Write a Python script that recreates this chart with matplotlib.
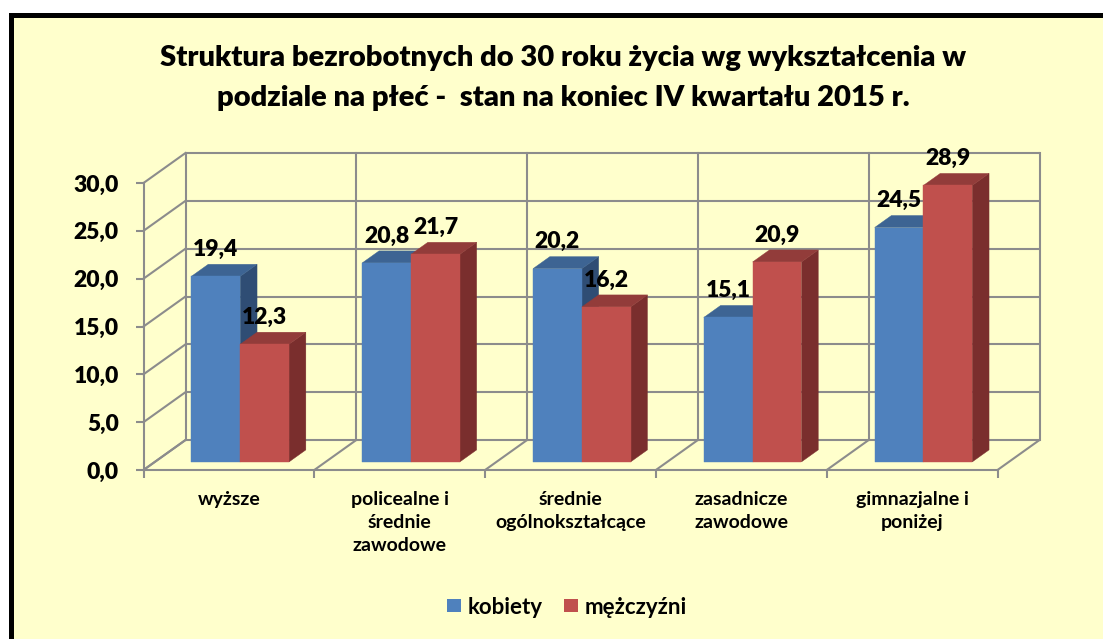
import matplotlib
matplotlib.use("Agg")
import matplotlib.pyplot as plt
from matplotlib.patches import Polygon, Rectangle, Patch

plt.rcParams['font.family'] = ['Lato', 'DejaVu Sans']

# ---- data ----
categories = ["wyższe", "policealne i\nśrednie\nzawodowe", "średnie\nogólnokształcące",
              "zasadnicze\nzawodowe", "gimnazjalne i\nponiżej"]
series_names = ["kobiety", "mężczyźni"]
kobiety = [19.4, 20.8, 20.2, 15.1, 24.5]
mezczyzni = [12.3, 21.7, 16.2, 20.9, 28.9]
yticks = [0, 5, 10, 15, 20, 25, 30]
title_lines = ["Struktura bezrobotnych do 30 roku życia wg wykształcenia w",
               "podziale na płeć -  stan na koniec IV kwartału 2015 r."]

# ---- style ----
W, H = 1103, 639
BG = '#FFFFCC'
GRID = '#8C8C8C'
front_cols = ['#4F81BD', '#C0504D']
top_cols = ['#3D6493', '#923C3A']
side_cols = ['#2F4D74', '#7A2E2D']

fig = plt.figure(figsize=(W / 100, H / 100), dpi=100)
fig.patch.set_facecolor('white')
bgrect = Rectangle((10.5 / W, -0.1), 1.2, 0.1 + (H - 15.5) / H, transform=fig.transFigure,
                   facecolor=BG, edgecolor='black', linewidth=3.6, zorder=-1)
fig.patches.append(bgrect)

# front plane in pixels
x0p, x1p = 143.5, 997.5
y0p, y1p = 470, 183
ax = fig.add_axes([x0p / W, (H - y0p) / H, (x1p - x0p) / W, (y0p - y1p) / H])
ax.patch.set_visible(False)
ncat = len(categories)
ymax = yticks[-1]
ax.set_xlim(0, ncat)
ax.set_ylim(0, ymax)

# depth projection (data units per full depth)
DX = 42 / ((x1p - x0p) / ncat)
DY = 30 / ((y0p - y1p) / ymax)


def P(x, y, d):
    return (x + d * DX, y + d * DY)


lw = 1.5
# back wall horizontal grid + left wall diagonals
for v in yticks:
    xs, ys = zip(P(0, v, 1), P(ncat, v, 1))
    ax.plot(xs, ys, color=GRID, lw=lw, clip_on=False, zorder=1, solid_capstyle='butt')
    xs, ys = zip(P(0, v, 0), P(0, v, 1))
    ax.plot(xs, ys, color=GRID, lw=lw, clip_on=False, zorder=1)
# back wall verticals + floor diagonals
for k in range(ncat + 1):
    xs, ys = zip(P(k, 0, 1), P(k, ymax, 1))
    ax.plot(xs, ys, color=GRID, lw=lw, clip_on=False, zorder=1)
    xs, ys = zip(P(k, 0, 0), P(k, 0, 1))
    ax.plot(xs, ys, color=GRID, lw=lw, clip_on=False, zorder=1)

# bars
w = 1 / 3.5
d0, d1 = 0.27, 0.67
z = 3
for i in range(ncat):
    for s, vals in enumerate([kobiety, mezczyzni]):
        v = vals[i]
        xl = i + 0.5 - w + s * w
        xr = xl + w
        side = [P(xr, 0, d0), P(xr, 0, d1), P(xr, v, d1), P(xr, v, d0)]
        top = [P(xl, v, d0), P(xr, v, d0), P(xr, v, d1), P(xl, v, d1)]
        front = [P(xl, 0, d0), P(xr, 0, d0), P(xr, v, d0), P(xl, v, d0)]
        for poly, col in [(side, side_cols[s]), (top, top_cols[s]), (front, front_cols[s])]:
            ax.add_patch(Polygon(poly, closed=True, facecolor=col, edgecolor=col,
                                 linewidth=0.3, clip_on=False, zorder=z))
            z += 0.01
        lx, ly = (xl + xr) / 2 + d0 * DX, v + d1 * DY
        ax.annotate(f"{v:.1f}".replace('.', ','), xy=(lx, ly), xytext=(0, 6),
                    textcoords='offset points', ha='center', va='baseline',
                    fontsize=16.5, fontweight='heavy', color='black',
                    annotation_clip=False, zorder=10)

# axes spines / ticks
for sp in ['top', 'right']:
    ax.spines[sp].set_visible(False)
for sp in ['left', 'bottom']:
    ax.spines[sp].set_color(GRID)
    ax.spines[sp].set_linewidth(lw)
    ax.spines[sp].set_zorder(2)
ax.set_yticks(yticks)
ax.set_yticklabels([f"{t:.1f}".replace('.', ',') for t in yticks],
                   fontsize=16.5, fontweight='heavy')
ax.tick_params(axis='y', direction='out', length=5.8, width=lw, color=GRID, pad=12)
ax.set_xticks(range(ncat + 1))
ax.set_xticklabels([])
ax.tick_params(axis='x', which='major', direction='out', length=5.8, width=lw, color=GRID)
ax.set_xticks([i + 0.5 for i in range(ncat)], minor=True)
ax.set_xticklabels(categories, minor=True, fontsize=14, fontweight='bold', linespacing=1.45)
ax.tick_params(axis='x', which='minor', length=0, pad=15)

# title
fig.text(563 / W, 1 - 66 / H, title_lines[0], ha='center', va='baseline',
         fontsize=21, fontweight='heavy')
fig.text(563 / W, 1 - 106 / H, title_lines[1], ha='center', va='baseline',
         fontsize=21, fontweight='heavy')

# legend
handles = [Patch(facecolor=c, edgecolor='none') for c in front_cols]
leg = fig.legend(handles, series_names, loc='center', bbox_to_anchor=(567 / W, 1 - 607 / H),
                 ncol=2, frameon=False, prop={'weight': 'bold', 'size': 16},
                 handlelength=0.6, handleheight=0.55, handletextpad=0.3, columnspacing=1.0)

fig.savefig('out.png', dpi=100, facecolor=fig.get_facecolor())
